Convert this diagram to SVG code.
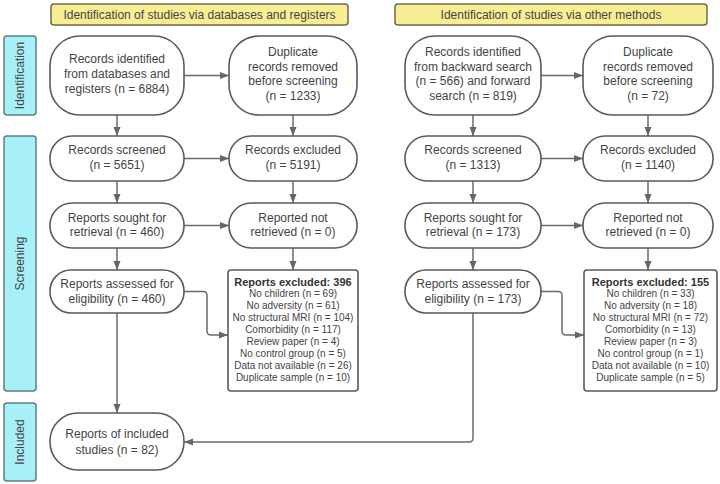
<svg xmlns="http://www.w3.org/2000/svg" width="720" height="484" viewBox="0 0 720 484">
<defs>
<marker id="ah" markerWidth="10" markerHeight="8" refX="9" refY="4" orient="auto" markerUnits="userSpaceOnUse">
<path d="M0,0.5 L9,4 L0,7.5 Z" fill="#666"/>
</marker>
<style>
text{font-family:"Liberation Sans",Arial,sans-serif;fill:#444;text-anchor:middle}
.t{font-size:12px}
.s{font-size:10px}
.b{font-size:11px;font-weight:bold;fill:#333}
.node{fill:#fff;stroke:#5a5a5a;stroke-width:1.6}
.hdr{fill:#f8ee94;stroke:#6d6a4a;stroke-width:1.5}
.side{fill:#a8f0f8;stroke:#5c7f88;stroke-width:1.5}
.c{fill:none;stroke:#6a6a6a;stroke-width:1.5;marker-end:url(#ah)}
.cn{fill:none;stroke:#6a6a6a;stroke-width:1.5}
</style>
</defs>

<g id="header-left"><rect class="hdr" x="51" y="4" width="297" height="21" rx="3"/><text class="t" x="199.5" y="19">Identification of studies via databases and registers</text></g>
<g id="header-right"><rect class="hdr" x="395" y="4" width="312" height="21" rx="3"/><text class="t" x="551" y="19">Identification of studies via other methods</text></g>

<g id="side-identification"><rect class="side" x="4" y="36" width="32" height="79" rx="3"/><text class="t" transform="translate(24,75.5) rotate(-90)">Identification</text></g>
<g id="side-screening"><rect class="side" x="4" y="136" width="32" height="255" rx="3"/><text class="t" transform="translate(24,263.5) rotate(-90)">Screening</text></g>
<g id="side-included"><rect class="side" x="4" y="403" width="32" height="78" rx="3"/><text class="t" transform="translate(24,442) rotate(-90)">Included</text></g>

<g id="connectors">
<path class="c" d="M184,75.5 H229"/>
<path class="c" d="M541,75.5 H583"/>
<path class="c" d="M117,115 V136"/>
<path class="c" d="M293,115 V136"/>
<path class="c" d="M473,115 V136"/>
<path class="c" d="M648,115 V136"/>
<path class="c" d="M184,158.5 H229"/>
<path class="c" d="M541,158.5 H583"/>
<path class="c" d="M117,181 V203"/>
<path class="c" d="M293,181 V203"/>
<path class="c" d="M473,181 V203"/>
<path class="c" d="M648,181 V203"/>
<path class="c" d="M184,225.5 H229"/>
<path class="c" d="M541,225.5 H583"/>
<path class="c" d="M117,248 V270"/>
<path class="c" d="M293,248 V270"/>
<path class="c" d="M473,248 V270"/>
<path class="c" d="M648,248 V270"/>
<path class="c" d="M184,291.5 H203 Q207,291.5 207,295.5 V331 Q207,335 211,335 H228"/>
<path class="c" d="M541,291.5 H558 Q562,291.5 562,295.5 V331 Q562,335 566,335 H584"/>
<path class="c" d="M117,313 V413"/>
<path class="c" d="M473,313 V438 Q473,442 469,442 H184"/>
</g>

<g id="n-records-db"><rect class="node" x="50" y="36" width="134" height="79" rx="30"/>
<text class="t" x="117" y="63">Records identified</text><text class="t" x="117" y="78">from databases and</text><text class="t" x="117" y="93">registers (n = 6884)</text></g>
<g id="n-duplicate-db"><rect class="node" x="229" y="36" width="128" height="79" rx="30"/>
<text class="t" x="293" y="56">Duplicate</text><text class="t" x="293" y="70.5">records removed</text><text class="t" x="293" y="85">before screening</text><text class="t" x="293" y="100">(n = 1233)</text></g>
<g id="n-screened-db"><rect class="node" x="50" y="136" width="134" height="45" rx="22"/>
<text class="t" x="117" y="153.5">Records screened</text><text class="t" x="117" y="168.5">(n = 5651)</text></g>
<g id="n-excluded-db"><rect class="node" x="229" y="136" width="128" height="45" rx="22"/>
<text class="t" x="293" y="153.5">Records excluded</text><text class="t" x="293" y="168.5">(n = 5191)</text></g>
<g id="n-sought-db"><rect class="node" x="50" y="203" width="134" height="45" rx="22"/>
<text class="t" x="117" y="221.5">Reports sought for</text><text class="t" x="117" y="235.5">retrieval (n = 460)</text></g>
<g id="n-notretrieved-db"><rect class="node" x="229" y="203" width="128" height="45" rx="22"/>
<text class="t" x="293" y="221.5">Reported not</text><text class="t" x="293" y="235.5">retrieved (n = 0)</text></g>
<g id="n-assessed-db"><rect class="node" x="50" y="270" width="134" height="43" rx="21"/>
<text class="t" x="117" y="287.5">Reports assessed for</text><text class="t" x="117" y="302.5">eligibility (n = 460)</text></g>
<g id="n-reports-excluded-db"><rect class="node" x="228" y="270" width="130" height="121" rx="3"/>
<text class="b" x="293" y="285.5">Reports excluded: 396</text>
<text class="s" x="293" y="297">No children (n = 69)</text>
<text class="s" x="293" y="309">No adversity (n = 61)</text>
<text class="s" x="293" y="321">No structural MRI (n = 104)</text>
<text class="s" x="293" y="333">Comorbidity (n = 117)</text>
<text class="s" x="293" y="345">Review paper (n = 4)</text>
<text class="s" x="293" y="357">No control group (n = 5)</text>
<text class="s" x="293" y="369">Data not available (n = 26)</text>
<text class="s" x="293" y="381">Duplicate sample (n = 10)</text></g>

<g id="n-records-other"><rect class="node" x="405" y="36" width="136" height="79" rx="30"/>
<text class="t" x="473" y="56">Records identified</text><text class="t" x="473" y="70.5">from backward search</text><text class="t" x="473" y="85">(n = 566) and forward</text><text class="t" x="473" y="100">search (n = 819)</text></g>
<g id="n-duplicate-other"><rect class="node" x="583" y="36" width="130" height="79" rx="30"/>
<text class="t" x="648" y="56">Duplicate</text><text class="t" x="648" y="70.5">records removed</text><text class="t" x="648" y="85">before screening</text><text class="t" x="648" y="100">(n = 72)</text></g>
<g id="n-screened-other"><rect class="node" x="405" y="136" width="136" height="45" rx="22"/>
<text class="t" x="473" y="153.5">Records screened</text><text class="t" x="473" y="168.5">(n = 1313)</text></g>
<g id="n-excluded-other"><rect class="node" x="583" y="136" width="130" height="45" rx="22"/>
<text class="t" x="648" y="153.5">Records excluded</text><text class="t" x="648" y="168.5">(n = 1140)</text></g>
<g id="n-sought-other"><rect class="node" x="405" y="203" width="136" height="45" rx="22"/>
<text class="t" x="473" y="221.5">Reports sought for</text><text class="t" x="473" y="235.5">retrieval (n = 173)</text></g>
<g id="n-notretrieved-other"><rect class="node" x="583" y="203" width="130" height="45" rx="22"/>
<text class="t" x="648" y="221.5">Reported not</text><text class="t" x="648" y="235.5">retrieved (n = 0)</text></g>
<g id="n-assessed-other"><rect class="node" x="405" y="270" width="136" height="43" rx="21"/>
<text class="t" x="473" y="287.5">Reports assessed for</text><text class="t" x="473" y="302.5">eligibility (n = 173)</text></g>
<g id="n-reports-excluded-other"><rect class="node" x="584" y="270" width="133" height="121" rx="3"/>
<text class="b" x="650.5" y="285.5">Reports excluded: 155</text>
<text class="s" x="650.5" y="297">No children (n = 33)</text>
<text class="s" x="650.5" y="309">No adversity (n = 18)</text>
<text class="s" x="650.5" y="321">No structural MRI (n = 72)</text>
<text class="s" x="650.5" y="333">Comorbidity (n = 13)</text>
<text class="s" x="650.5" y="345">Review paper (n = 3)</text>
<text class="s" x="650.5" y="357">No control group (n = 1)</text>
<text class="s" x="650.5" y="369">Data not available (n = 10)</text>
<text class="s" x="650.5" y="381">Duplicate sample (n = 5)</text></g>

<g id="n-included"><rect class="node" x="50" y="413" width="134" height="57" rx="28"/>
<text class="t" x="117" y="438">Reports of included</text><text class="t" x="117" y="453.5">studies (n = 82)</text></g>
</svg>
